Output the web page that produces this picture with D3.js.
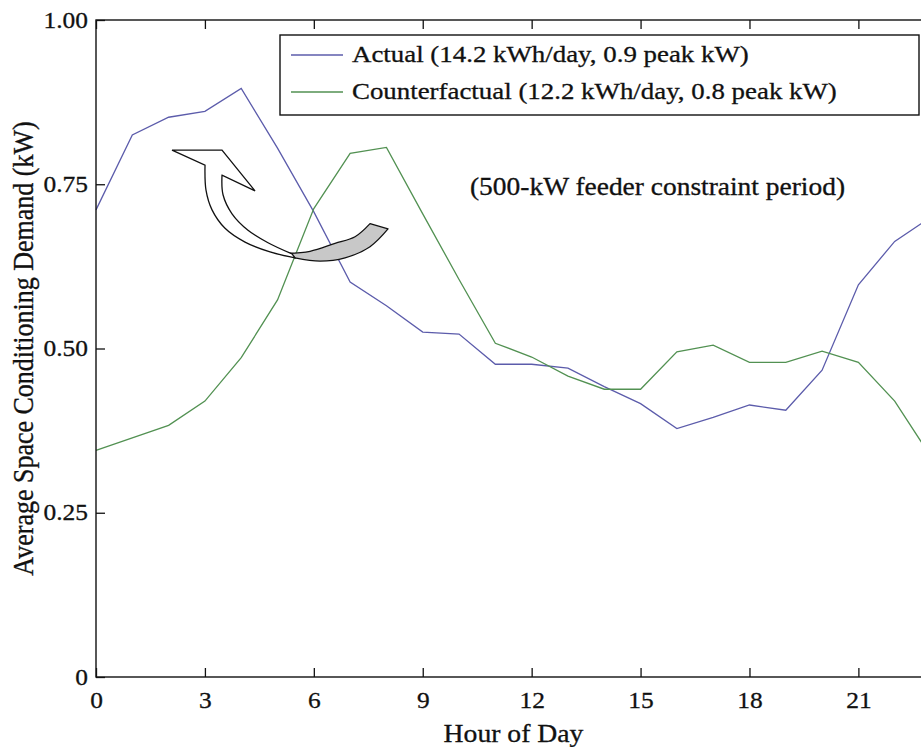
<!DOCTYPE html>
<html><head><meta charset="utf-8">
<script src="https://cdn.jsdelivr.net/npm/d3@7"></script>
<style>
body{margin:0;background:#fff}
svg{display:block}
text{font-family:"Liberation Serif","Times New Roman",serif;fill:#111;stroke:#111;stroke-width:0.3px}
</style>
</head><body>
<svg id="c" width="921" height="747"></svg>
<script>
// ---- data ----
const hours = d3.range(0, 24);
const actual = [0.711, 0.825, 0.852, 0.861, 0.896, 0.805, 0.708, 0.601, 0.565, 0.525, 0.522, 0.476, 0.476, 0.470, 0.442, 0.416, 0.378, 0.395, 0.414, 0.406, 0.467, 0.597, 0.663, 0.700];
const counterfactual = [0.345, 0.364, 0.383, 0.420, 0.486, 0.574, 0.713, 0.797, 0.806, 0.705, 0.605, 0.508, 0.487, 0.458, 0.438, 0.438, 0.495, 0.505, 0.479, 0.479, 0.496, 0.479, 0.420, 0.335];
const seriesNames = ["Actual (14.2 kWh/day, 0.9 peak kW)", "Counterfactual (12.2 kWh/day, 0.8 peak kW)"];
const seriesColors = ["#5c5cab", "#529152"];
const xTicks = [0, 3, 6, 9, 12, 15, 18, 21];
const yTicks = [0, 0.25, 0.5, 0.75, 1];
const yTickLabels = ["0", "0.25", "0.50", "0.75", "1.00"];
const xTitle = "Hour of Day";
const yTitle = "Average Space Conditioning Demand (kW)";
const note = "(500-kW feeder constraint period)";
// annotation arrow outline, in (hour, kW) units
const arrowHead = [[2.094, 0.802], [3.471, 0.802], [4.380, 0.740], [3.471, 0.764]];
const arrowInner = [[3.471, 0.764], [3.499, 0.734], [3.747, 0.705], [4.187, 0.680], [4.738, 0.661], [5.399, 0.644]];
const arrowOuter = [[3.003, 0.779], [3.030, 0.741], [3.196, 0.711], [3.554, 0.683], [4.105, 0.662], [4.793, 0.647], [5.482, 0.638]];
const tailTop = [[5.289, 0.645], [5.895, 0.648], [6.584, 0.660], [7.135, 0.670], [7.548, 0.690]];
const tailBottom = [[8.044, 0.682], [7.548, 0.655], [6.860, 0.638], [6.171, 0.633], [5.482, 0.638]];

// ---- layout ----
const S = 1.13; // horizontal glyph stretch of the reference
const svg = d3.select("#c");
const x = d3.scaleLinear().domain([0, 23]).range([96, 931]);
const y = d3.scaleLinear().domain([0, 1]).range([677, 20]);

function stretch(sel, s) {
  sel.each(function () {
    const t = d3.select(this);
    const ax = +t.attr("x") || 0;
    t.attr("transform", `translate(${ax},0) scale(${s},1) translate(${-ax},0)`);
  });
}

// lines
const line = d3.line().x((d, i) => x(hours[i])).y(d => y(d));
[actual, counterfactual].forEach((s, k) => {
  svg.append("path").attr("d", line(s)).attr("fill", "none")
    .attr("stroke", seriesColors[k]).attr("stroke-width", 1.3);
});

// frame
svg.append("rect").attr("x", x(0)).attr("y", y(1))
  .attr("width", x(23) - x(0)).attr("height", y(0) - y(1))
  .attr("fill", "none").attr("stroke", "#111").attr("stroke-width", 1.4);

// axes
const gx = svg.append("g").attr("transform", `translate(0,${y(0)})`)
  .call(d3.axisBottom(x).tickValues(xTicks).tickFormat(d3.format("d"))
    .tickSizeInner(-9).tickSizeOuter(0).tickPadding(15));
const gxt = svg.append("g").attr("transform", `translate(0,${y(1)})`)
  .call(d3.axisTop(x).tickValues(xTicks).tickFormat("").tickSizeInner(-9).tickSizeOuter(0));
const gy = svg.append("g").attr("transform", `translate(${x(0)},0)`)
  .call(d3.axisLeft(y).tickValues(yTicks).tickFormat((d, i) => yTickLabels[i])
    .tickSizeInner(-9).tickSizeOuter(0).tickPadding(8));
[gx, gxt, gy].forEach(g => {
  g.select(".domain").remove();
  g.selectAll("line").attr("stroke", "#111").attr("stroke-width", 1.3);
  g.selectAll("text").attr("font-family", "Liberation Serif").attr("font-size", 22.5).attr("fill", "#111");
});
stretch(gx.selectAll("text"), S);
stretch(gy.selectAll("text"), S);

// axis titles
const xt = svg.append("text").attr("x", (x(0) + x(23)) / 2).attr("y", 742)
  .attr("text-anchor", "middle").attr("font-size", 24.5).text(xTitle);
stretch(xt, S);
svg.append("text")
  .attr("transform", `translate(33,${(y(0) + y(1)) / 2}) scale(${S},1) rotate(-90)`)
  .attr("text-anchor", "middle").attr("font-size", 26).text(yTitle);

// arrow annotation
const P = d => [x(d[0]), y(d[1])];
const cr = d3.line().curve(d3.curveCatmullRom.alpha(0.5));
const head = arrowHead.map(P);
const inner = arrowInner.map(P);
const outer = arrowOuter.map(P);
const whitePath = "M" + head.map(p => p.join(",")).join("L")
  + cr(inner).replace(/^M/, "L")
  + cr(outer.slice().reverse()).replace(/^M/, "L") + "Z";
const greyPath = cr(tailTop.map(P)) + cr(tailBottom.map(P)).replace(/^M/, "L") + "Z";
svg.append("path").attr("d", greyPath).attr("fill", "#c8c8c8")
  .attr("stroke", "#111").attr("stroke-width", 1.3).attr("stroke-linejoin", "round");
svg.append("path").attr("d", whitePath).attr("fill", "#fff")
  .attr("stroke", "#111").attr("stroke-width", 1.3).attr("stroke-linejoin", "miter");

// note
const nt = svg.append("text").attr("x", 470).attr("y", 195).attr("font-size", 24.3).text(note);
stretch(nt, S);

// legend
const lg = svg.append("g");
lg.append("rect").attr("x", 280).attr("y", 35).attr("width", 639).attr("height", 80)
  .attr("fill", "#fff").attr("stroke", "#111").attr("stroke-width", 1.4);
seriesNames.forEach((n, k) => {
  const ly = 55 + k * 37;
  lg.append("line").attr("x1", 291).attr("x2", 343).attr("y1", ly).attr("y2", ly)
    .attr("stroke", seriesColors[k]).attr("stroke-width", 1.3);
  const t = lg.append("text").attr("x", 352).attr("y", ly + 7).attr("font-size", 23.8).text(n);
  stretch(t, S);
});
</script>
</body></html>
